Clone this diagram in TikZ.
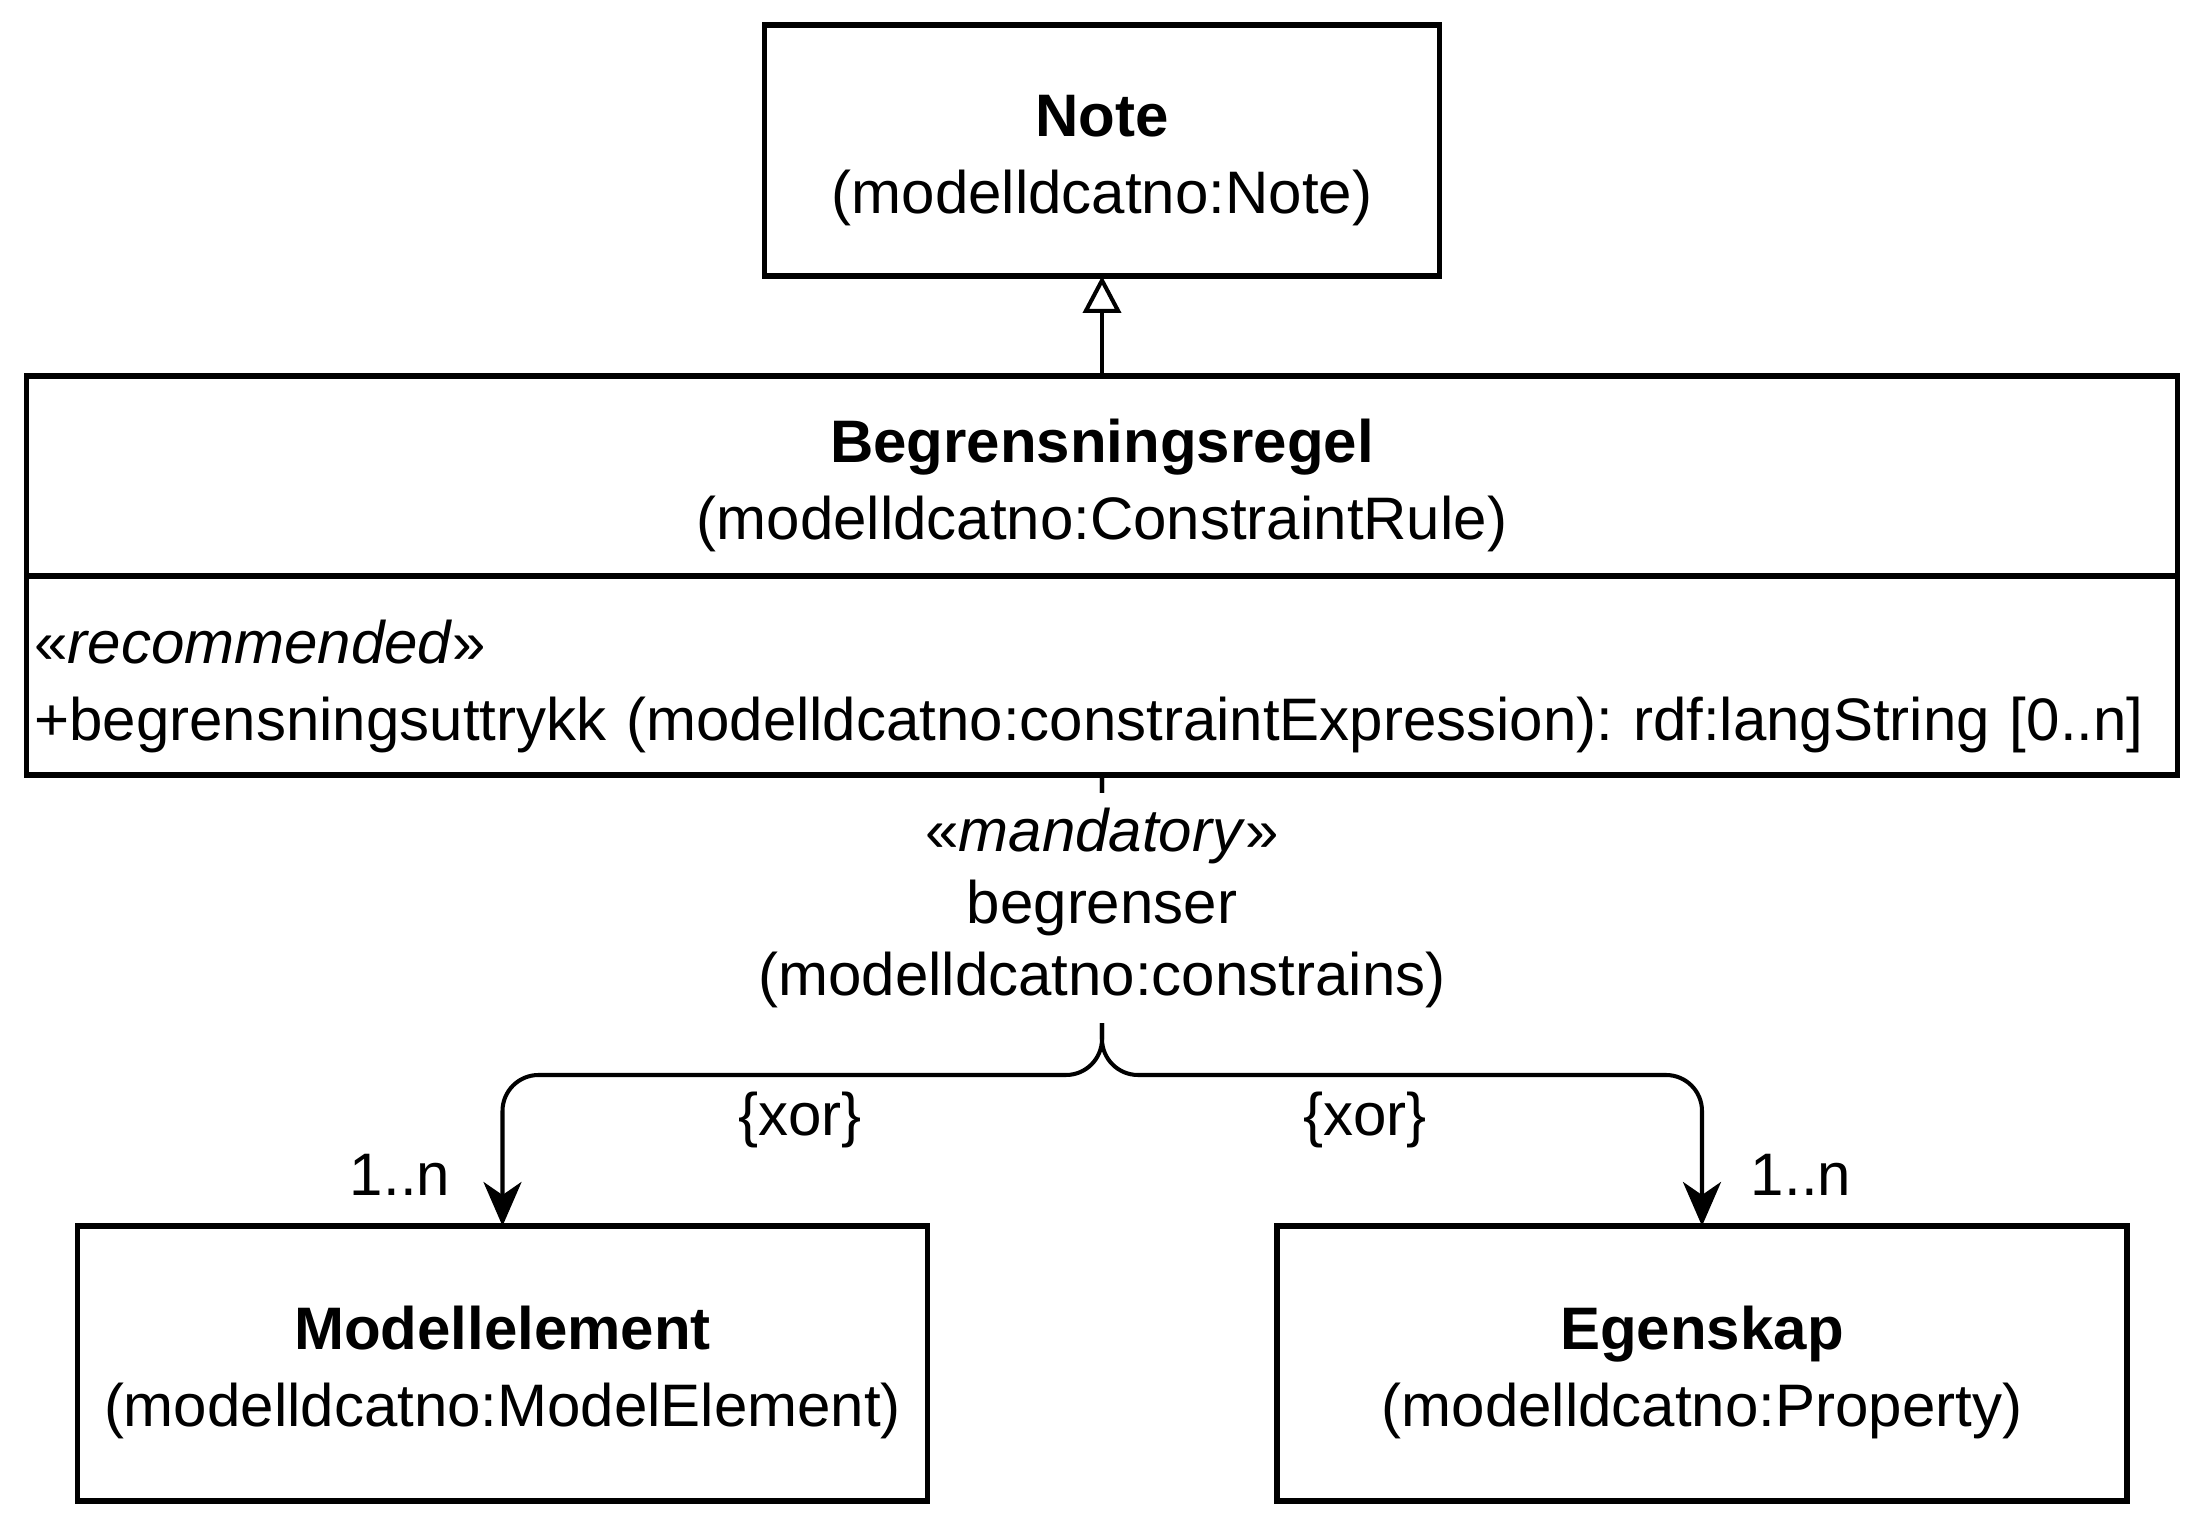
\documentclass[tikz,border=0pt]{standalone}
\usepackage{fontspec}
\setmainfont{Liberation Sans}
\usetikzlibrary{arrows.meta,positioning}
\frenchspacing
\newcommand{\lowstrut}[1]{\rule{0pt}{#1}}

\begin{document}
\begin{tikzpicture}[
  umlbox/.style={draw=black, line width=1.45pt, fill=white, outer sep=0pt, align=center, font=\fontsize{17.07pt}{21.8pt}\selectfont},
  lbl/.style={font=\fontsize{17.07pt}{20.5pt}\selectfont, align=center, inner sep=1pt},
  assoc/.style={line width=1.15pt, rounded corners=0.36cm, -{Stealth[length=4.4mm, width=3.8mm, inset=1.3mm]}},
  gen/.style={line width=1.15pt, -{Triangle[length=3.7mm, width=3.8mm, fill=white]}}
]
  \useasboundingbox (0,0) rectangle (22.10,15.35);

  %% Classes
  \node[umlbox, minimum width=6.75cm, minimum height=2.51cm] (note) at (11.02,13.845) {\lowstrut{6.2mm}\textbf{Note}\\(modelldcatno:Note)};
  \node[umlbox, minimum width=21.51cm, minimum height=2.0cm] (regel) at (11.02,10.59) {\lowstrut{6.2mm}\textbf{Begrensningsregel}\\(modelldcatno:ConstraintRule)};
  \node[umlbox, below=0pt of regel, text width=21.35cm, inner xsep=0.08cm, minimum height=1.99cm, align=left] (regelattr) {\lowstrut{6.6mm}«\textit{recommended}»\\+begrensningsuttrykk (modelldcatno:constraintExpression): rdf:langString [0..n]};
  \node[umlbox, minimum width=8.5cm, minimum height=2.75cm] (modell) at (5.025,1.715) {\lowstrut{6.2mm}\textbf{Modellelement}\\(modelldcatno:ModelElement)};
  \node[umlbox, minimum width=8.5cm, minimum height=2.75cm] (egenskap) at (17.02,1.715) {\lowstrut{6.2mm}\textbf{Egenskap}\\(modelldcatno:Property)};

  %% Generalization
  \draw[gen] (regel.north) -- (note.south);

  %% Association with xor
  \draw[assoc] (regelattr.south) -- ++(0,-3.0) -| (modell.north);
  \draw[assoc] (regelattr.south) -- ++(0,-3.0) -| (egenskap.north);

  %% Labels
  \node[lbl, fill=white, inner ysep=1.5mm] (rolle) at (11.02,6.27) {«\textit{mandatory}»\\begrenser\\(modelldcatno:constrains)};
  \node[lbl] (xorl) at (8.00,4.15) {\{xor\}};
  \node[lbl] (xorr) at (13.65,4.15) {\{xor\}};
  \node[lbl] (multl) at (4.00,3.60) {1..n};
  \node[lbl] (multr) at (18.01,3.60) {1..n};
\end{tikzpicture}
\end{document}
